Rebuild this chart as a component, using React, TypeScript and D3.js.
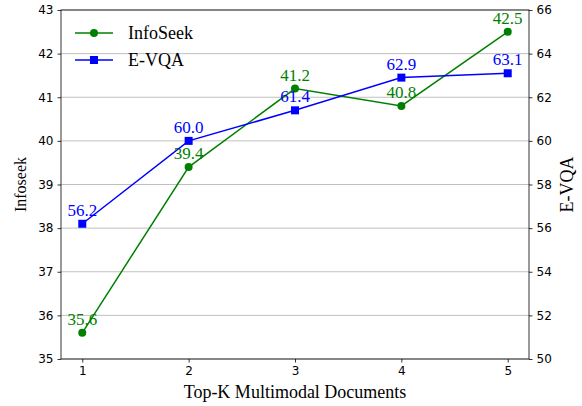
import React, { useEffect, useRef } from 'react';
import * as d3 from 'd3';

const topK = [1, 2, 3, 4, 5];
const infoSeek = [35.6, 39.4, 41.2, 40.8, 42.5];
const evqa = [56.2, 60.0, 61.4, 62.9, 63.1];
const leftTicks = [35, 36, 37, 38, 39, 40, 41, 42, 43];
const rightTicks = [50, 52, 54, 56, 58, 60, 62, 64, 66];

const W = 582, H = 406;
const margin = { top: 10, right: 53, bottom: 47, left: 61 };
const serif = '"Liberation Serif", "Times New Roman", serif';
const sans = '"DejaVu Sans", sans-serif';

export default function App() {
  const ref = useRef<SVGSVGElement>(null);

  useEffect(() => {
    const el = ref.current;
    if (!el) return;
    const svg = d3.select(el);
    svg.selectAll('*').remove();

    const iw = W - margin.left - margin.right;
    const ih = H - margin.top - margin.bottom;

    const x = d3.scaleLinear().domain([0.8, 5.2]).range([0, iw]);
    const yL = d3.scaleLinear().domain([35, 43]).range([ih, 0]);
    const yR = d3.scaleLinear().domain([50, 66]).range([ih, 0]);

    const g = svg.append('g').attr('transform', `translate(${margin.left},${margin.top})`);

    // grid
    g.append('g').selectAll('line').data(leftTicks).join('line')
      .attr('x1', 0).attr('x2', iw)
      .attr('y1', d => yL(d)).attr('y2', d => yL(d))
      .attr('stroke', '#b0b0b0').attr('stroke-width', 0.8);

    // axes
    const styleAxis = (a: any) => {
      a.select('.domain').remove();
      a.selectAll('line').attr('stroke', '#000').attr('stroke-width', 0.8);
      a.selectAll('text').attr('font-family', sans).attr('font-size', 12).attr('fill', '#000');
    };
    g.append('g').attr('transform', `translate(0,${ih})`)
      .call(d3.axisBottom(x).tickValues(topK).tickFormat(d3.format('d')).tickSize(3.5).tickPadding(4))
      .call(styleAxis);
    g.append('g')
      .call(d3.axisLeft(yL).tickValues(leftTicks).tickSize(3.5).tickPadding(4))
      .call(styleAxis);
    g.append('g').attr('transform', `translate(${iw},0)`)
      .call(d3.axisRight(yR).tickValues(rightTicks).tickSize(3.5).tickPadding(4))
      .call(styleAxis);

    g.append('rect').attr('width', iw).attr('height', ih)
      .attr('fill', 'none').attr('stroke', '#000').attr('stroke-width', 0.8);

    // series
    const series = [
      { vals: infoSeek, y: yL, color: '#008000', marker: 'circle' },
      { vals: evqa, y: yR, color: '#0000ff', marker: 'square' },
    ];
    series.forEach(s => {
      const line = d3.line<number>().x((_, i) => x(topK[i])).y(d => s.y(d));
      g.append('path').datum(s.vals).attr('d', line)
        .attr('fill', 'none').attr('stroke', s.color).attr('stroke-width', 1.5);
      if (s.marker === 'circle') {
        g.append('g').selectAll('circle').data(s.vals).join('circle')
          .attr('cx', (_, i) => x(topK[i])).attr('cy', d => s.y(d)).attr('r', 4)
          .attr('fill', s.color);
      } else {
        g.append('g').selectAll('rect').data(s.vals).join('rect')
          .attr('x', (_, i) => x(topK[i]) - 4).attr('y', d => s.y(d) - 4)
          .attr('width', 8).attr('height', 8).attr('fill', s.color);
      }
      g.append('g').selectAll('text').data(s.vals).join('text')
        .attr('x', (_, i) => x(topK[i])).attr('y', d => s.y(d) - 8)
        .attr('text-anchor', 'middle').attr('font-family', serif).attr('font-size', 17)
        .attr('fill', s.color).text(d => d.toFixed(1));
    });

    // legend
    const legend = [
      { name: 'InfoSeek', color: '#008000', marker: 'circle' },
      { name: 'E-VQA', color: '#0000ff', marker: 'square' },
    ];
    const lg = g.append('g').attr('transform', 'translate(14,23)');
    legend.forEach((l, i) => {
      const row = lg.append('g').attr('transform', `translate(0,${i * 27})`);
      row.append('line').attr('x1', 0).attr('x2', 38).attr('stroke', l.color).attr('stroke-width', 1.5);
      if (l.marker === 'circle') row.append('circle').attr('cx', 19).attr('r', 4).attr('fill', l.color);
      else row.append('rect').attr('x', 15).attr('y', -4).attr('width', 8).attr('height', 8).attr('fill', l.color);
      row.append('text').attr('x', 53).attr('y', 6).attr('font-family', serif).attr('font-size', 18)
        .attr('fill', '#000').text(l.name);
    });

    // axis labels
    svg.append('text').attr('x', margin.left + iw / 2).attr('y', 398)
      .attr('text-anchor', 'middle').attr('font-family', serif).attr('font-size', 18).text('Top-K Multimodal Documents');
    svg.append('text').attr('transform', `translate(26,${margin.top + ih / 2}) rotate(-90)`)
      .attr('text-anchor', 'middle').attr('font-family', serif).attr('font-size', 16).text('Infoseek');
    svg.append('text').attr('transform', `translate(573,${margin.top + ih / 2}) rotate(-90)`)
      .attr('text-anchor', 'middle').attr('font-family', serif).attr('font-size', 18).text('E-VQA');
  }, []);

  return (
    <svg ref={ref} width={W} height={H}
      style={{ position: 'absolute', left: 0, top: 0, background: '#fff' }} />
  );
}
